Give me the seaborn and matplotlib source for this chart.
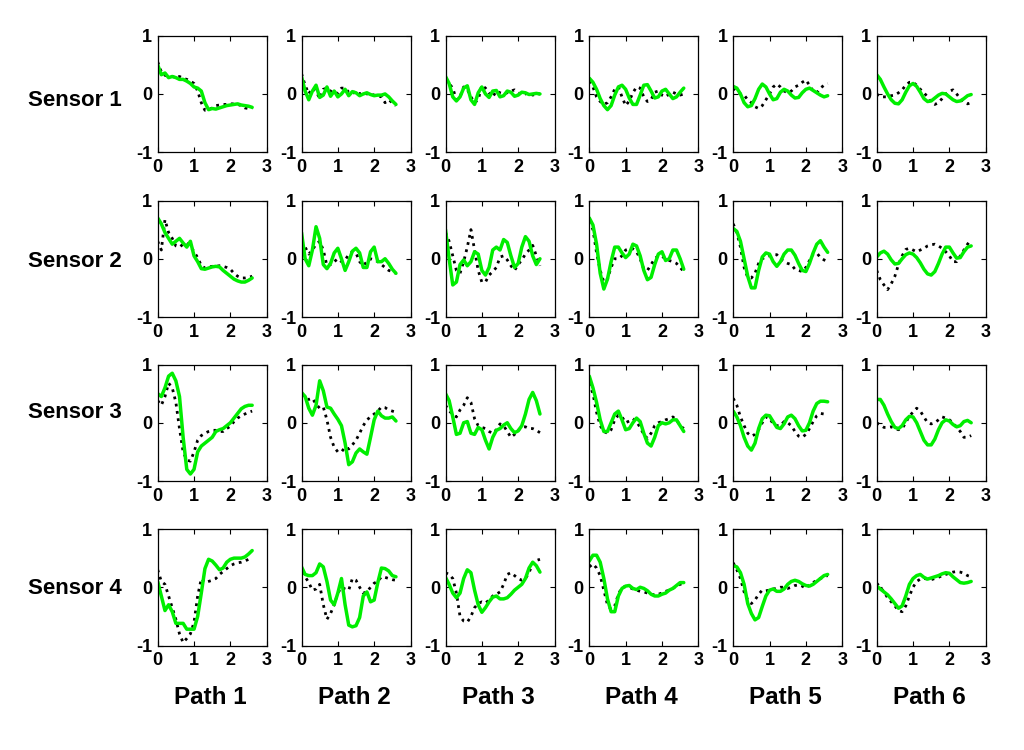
import matplotlib
matplotlib.use("Agg")
import matplotlib.pyplot as plt
import seaborn as sns

# time axis shared by every panel (s)
t = [0.0, 0.1, 0.2, 0.3, 0.4, 0.5, 0.6, 0.7, 0.8, 0.9, 1.0, 1.1, 1.2, 1.3,
     1.4, 1.5, 1.6, 1.7, 1.8, 1.9, 2.0, 2.1, 2.2, 2.3, 2.4, 2.5, 2.6]

sensors = ["Sensor 1", "Sensor 2", "Sensor 3", "Sensor 4"]
paths = ["Path 1", "Path 2", "Path 3", "Path 4", "Path 5", "Path 6"]

# green solid curves, one list per path
sensor1_green = [
    [0.5, 0.33, 0.36, 0.28, 0.3, 0.28, 0.25, 0.25, 0.22, 0.18, 0.12, 0.1, 0.05, -0.15, -0.27, -0.25, -0.26, -0.24, -0.22, -0.2, -0.19, -0.18, -0.17, -0.19, -0.2, -0.21, -0.23],
    [0.3, 0.05, -0.1, 0.05, 0.15, -0.06, -0.02, 0.12, -0.04, 0.05, -0.05, 0.0, 0.08, -0.03, 0.04, 0.02, -0.03, 0.0, 0.02, -0.01, -0.03, -0.02, -0.02, 0.0, -0.05, -0.12, -0.18],
    [0.3, 0.18, -0.05, -0.12, -0.05, 0.1, 0.14, -0.1, -0.18, 0.02, 0.12, 0.0, -0.06, 0.05, 0.06, -0.05, -0.03, 0.05, 0.03, -0.04, -0.02, 0.03, 0.02, -0.01, 0.0, 0.01, 0.0],
    [0.27, 0.2, 0.08, -0.08, -0.2, -0.27, -0.2, -0.02, 0.12, 0.15, 0.08, -0.07, -0.18, -0.18, -0.02, 0.15, 0.16, 0.05, -0.07, -0.05, 0.05, 0.08, 0.0, -0.08, -0.05, 0.03, 0.1],
    [0.13, 0.1, 0.0, -0.15, -0.22, -0.2, -0.08, 0.08, 0.17, 0.12, 0.0, -0.1, -0.08, 0.03, 0.08, 0.05, -0.02, -0.07, -0.06, 0.02, 0.08, 0.1, 0.06, 0.02, -0.02, -0.05, -0.03],
    [0.33, 0.25, 0.12, 0.0, -0.1, -0.16, -0.17, -0.1, 0.03, 0.14, 0.18, 0.13, 0.03, -0.08, -0.13, -0.12, -0.07, -0.02, 0.01, 0.0, -0.05, -0.1, -0.13, -0.12, -0.08, -0.03, -0.01],
]
sensor2_green = [
    [0.7, 0.6, 0.45, 0.35, 0.25, 0.3, 0.35, 0.27, 0.2, 0.3, 0.05, -0.05, -0.17, -0.18, -0.16, -0.14, -0.13, -0.14, -0.2, -0.25, -0.3, -0.35, -0.38, -0.4, -0.4, -0.37, -0.33],
    [0.45, 0.0, -0.12, 0.15, 0.55, 0.35, -0.1, -0.17, -0.08, 0.1, 0.18, 0.0, -0.2, -0.05, 0.13, 0.18, 0.1, -0.15, -0.15, 0.12, 0.2, -0.05, -0.05, 0.0, -0.08, -0.18, -0.25],
    [0.5, 0.0, -0.45, -0.4, -0.1, -0.02, -0.12, -0.05, 0.12, 0.08, -0.2, -0.28, -0.15, 0.15, 0.2, 0.15, 0.33, 0.28, 0.05, -0.15, -0.08, 0.2, 0.38, 0.3, 0.05, -0.1, 0.0],
    [0.7, 0.58, 0.25, -0.25, -0.52, -0.35, -0.05, 0.2, 0.2, 0.1, 0.02, 0.08, 0.25, 0.22, 0.05, -0.2, -0.36, -0.32, -0.1, 0.08, 0.12, -0.03, 0.0, 0.15, 0.15, 0.0, -0.18],
    [0.52, 0.47, 0.3, 0.0, -0.3, -0.5, -0.5, -0.2, 0.03, 0.1, 0.08, -0.05, -0.13, -0.05, 0.08, 0.15, 0.15, 0.06, -0.08, -0.2, -0.22, -0.08, 0.1, 0.25, 0.31, 0.2, 0.11],
    [0.03, 0.1, 0.13, 0.08, -0.02, -0.09, -0.08, 0.0, 0.07, 0.1, 0.08, 0.02, -0.07, -0.18, -0.26, -0.28, -0.22, -0.08, 0.08, 0.2, 0.2, 0.1, 0.01, 0.02, 0.12, 0.2, 0.22],
]
sensor3_green = [
    [0.5, 0.45, 0.6, 0.8, 0.85, 0.72, 0.45, -0.25, -0.8, -0.88, -0.8, -0.5, -0.4, -0.35, -0.3, -0.25, -0.15, -0.12, -0.1, -0.05, 0.0, 0.08, 0.16, 0.24, 0.28, 0.3, 0.3],
    [0.52, 0.45, 0.25, 0.13, 0.3, 0.72, 0.55, 0.27, 0.25, 0.15, 0.06, -0.05, -0.35, -0.72, -0.67, -0.52, -0.45, -0.5, -0.54, -0.25, 0.05, 0.2, 0.12, 0.08, 0.08, 0.1, 0.03],
    [0.5, 0.38, 0.1, -0.2, -0.18, 0.0, 0.02, -0.18, -0.2, -0.08, -0.12, -0.3, -0.45, -0.25, -0.13, -0.1, -0.04, 0.0, -0.1, -0.17, -0.14, -0.05, 0.15, 0.4, 0.52, 0.38, 0.15],
    [0.8, 0.6, 0.35, 0.05, -0.15, -0.15, 0.0, 0.15, 0.2, 0.05, -0.12, -0.1, 0.0, 0.08, 0.02, -0.18, -0.35, -0.4, -0.25, -0.05, 0.0, -0.02, 0.0, 0.05, 0.05, -0.05, -0.15],
    [0.2, 0.1, -0.05, -0.25, -0.4, -0.47, -0.35, -0.1, 0.07, 0.13, 0.12, 0.02, -0.08, -0.1, -0.02, 0.1, 0.13, 0.07, -0.05, -0.14, -0.13, 0.0, 0.2, 0.33, 0.37, 0.37, 0.36],
    [0.4, 0.4, 0.3, 0.15, 0.02, -0.08, -0.1, -0.05, 0.05, 0.11, 0.1, 0.0, -0.15, -0.3, -0.38, -0.38, -0.28, -0.12, 0.0, 0.05, 0.03, -0.03, -0.07, -0.05, 0.02, 0.04, 0.0],
]
sensor4_green = [
    [0.1, -0.15, -0.4, -0.3, -0.42, -0.62, -0.62, -0.62, -0.72, -0.72, -0.72, -0.5, -0.1, 0.32, 0.48, 0.45, 0.38, 0.3, 0.33, 0.43, 0.48, 0.5, 0.5, 0.5, 0.52, 0.57, 0.63],
    [0.35, 0.22, 0.2, 0.2, 0.25, 0.4, 0.35, 0.1, -0.22, -0.3, -0.1, 0.15, -0.3, -0.65, -0.68, -0.66, -0.52, -0.15, -0.08, -0.25, -0.22, 0.08, 0.33, 0.32, 0.28, 0.2, 0.18],
    [0.17, 0.05, -0.1, -0.18, -0.1, 0.15, 0.3, 0.25, -0.05, -0.3, -0.43, -0.35, -0.25, -0.17, -0.15, -0.2, -0.2, -0.18, -0.12, -0.05, 0.0, 0.05, 0.15, 0.33, 0.43, 0.37, 0.26],
    [0.45, 0.55, 0.55, 0.43, 0.15, -0.2, -0.42, -0.42, -0.15, -0.02, 0.02, 0.03, -0.02, -0.04, 0.0, -0.02, -0.06, -0.12, -0.15, -0.15, -0.12, -0.1, -0.05, -0.02, 0.03, 0.08, 0.08],
    [0.37, 0.35, 0.25, 0.05, -0.28, -0.45, -0.56, -0.52, -0.33, -0.15, -0.05, -0.03, -0.07, -0.07, -0.03, 0.05, 0.1, 0.12, 0.1, 0.06, 0.03, 0.02, 0.05, 0.1, 0.15, 0.2, 0.22],
    [0.02, -0.03, -0.08, -0.13, -0.2, -0.28, -0.36, -0.32, -0.15, 0.05, 0.15, 0.2, 0.22, 0.17, 0.14, 0.16, 0.18, 0.2, 0.23, 0.25, 0.24, 0.18, 0.13, 0.08, 0.07, 0.08, 0.1],
]

# black dotted curves, one list per path
sensor1_black = [
    [0.55, 0.38, 0.32, 0.3, 0.3, 0.28, 0.3, 0.27, 0.25, 0.22, 0.18, 0.05, -0.15, -0.28, -0.27, -0.24, -0.2, -0.19, -0.18, -0.18, -0.17, -0.17, -0.18, -0.2, -0.24, -0.25, -0.25],
    [0.35, 0.15, 0.0, 0.1, 0.05, -0.08, 0.08, 0.1, 0.05, 0.0, 0.02, 0.1, 0.1, 0.03, 0.0, 0.05, 0.0, 0.03, 0.0, 0.0, -0.02, -0.03, -0.05, -0.15, -0.1, -0.15, -0.2],
    [0.25, 0.18, 0.1, -0.1, -0.05, 0.12, 0.08, -0.05, -0.15, -0.1, 0.15, 0.1, 0.02, -0.05, 0.05, 0.02, 0.0, 0.02, 0.05, 0.07, 0.02, -0.02, 0.0, 0.02, -0.02, 0.0, 0.0],
    [0.22, 0.12, -0.05, -0.13, -0.18, -0.15, -0.05, 0.08, 0.12, -0.05, -0.2, -0.12, 0.02, 0.12, 0.1, -0.05, -0.13, -0.1, 0.03, 0.05, -0.02, -0.05, 0.0, 0.03, 0.0, -0.02, 0.0],
    [0.1, 0.05, 0.0, -0.02, -0.1, -0.15, -0.22, -0.25, -0.2, -0.1, 0.0, 0.12, 0.17, 0.12, 0.05, 0.02, 0.05, 0.12, 0.15, 0.2, 0.24, 0.15, 0.05, 0.02, 0.1, 0.15, 0.18],
    [0.0, -0.05, -0.05, -0.05, -0.03, -0.02, 0.02, 0.07, 0.15, 0.2, 0.2, 0.15, 0.08, 0.02, -0.05, -0.15, -0.18, -0.15, -0.08, 0.0, 0.05, 0.07, 0.0, -0.08, -0.15, -0.17, -0.15],
]
sensor2_black = [
    [0.3, 0.15, 0.67, 0.45, 0.35, 0.22, 0.2, 0.25, 0.27, 0.22, 0.12, 0.02, -0.12, -0.16, -0.14, -0.13, -0.13, -0.12, -0.13, -0.15, -0.18, -0.25, -0.3, -0.33, -0.33, -0.32, -0.3],
    [0.3, 0.2, 0.08, 0.15, 0.25, 0.3, 0.15, -0.12, -0.1, -0.05, 0.0, -0.05, -0.02, 0.07, 0.12, 0.1, -0.05, -0.12, -0.05, 0.0, -0.02, -0.05, -0.1, -0.15, -0.2, -0.22, -0.25],
    [0.45, 0.3, 0.05, -0.2, -0.25, -0.05, 0.2, 0.5, 0.15, -0.2, -0.4, -0.4, -0.28, -0.22, -0.15, 0.03, 0.05, -0.02, -0.12, -0.2, -0.1, -0.02, 0.08, 0.15, 0.23, 0.05, -0.12],
    [0.65, 0.5, 0.1, -0.2, -0.4, -0.35, -0.15, 0.0, 0.0, 0.05, 0.15, 0.17, 0.17, 0.12, 0.0, -0.18, -0.2, -0.1, 0.0, 0.05, 0.04, 0.0, -0.03, -0.05, -0.08, -0.15, -0.22],
    [0.6, 0.45, 0.2, -0.15, -0.32, -0.33, -0.25, -0.08, 0.0, 0.03, 0.05, 0.07, 0.07, 0.0, -0.05, -0.08, -0.1, -0.18, -0.2, -0.22, -0.15, -0.03, 0.08, 0.1, 0.02, -0.02, -0.05],
    [-0.2, -0.36, -0.45, -0.53, -0.43, -0.3, -0.1, 0.05, 0.16, 0.18, 0.15, 0.12, 0.15, 0.18, 0.22, 0.24, 0.25, 0.22, 0.18, 0.12, 0.05, -0.05, -0.05, 0.05, 0.15, 0.25, 0.33],
]
sensor3_black = [
    [0.38, 0.3, 0.45, 0.68, 0.6, 0.35, -0.1, -0.5, -0.64, -0.66, -0.5, -0.3, -0.22, -0.18, -0.15, -0.13, -0.13, -0.15, -0.15, -0.1, -0.06, 0.02, 0.08, 0.12, 0.15, 0.18, 0.2],
    [0.48, 0.42, 0.4, 0.42, 0.32, 0.25, 0.27, 0.05, -0.25, -0.42, -0.5, -0.5, -0.42, -0.45, -0.38, -0.3, -0.18, -0.05, 0.05, 0.1, 0.15, 0.2, 0.27, 0.26, 0.22, 0.2, 0.18],
    [0.3, 0.2, 0.15, 0.1, 0.22, 0.3, 0.43, 0.35, 0.07, -0.05, -0.08, -0.1, -0.15, -0.18, -0.12, -0.02, -0.05, -0.15, -0.25, -0.2, -0.13, -0.07, -0.07, -0.1, -0.1, -0.13, -0.17],
    [0.68, 0.5, 0.18, -0.05, -0.15, -0.18, -0.12, 0.05, 0.13, 0.1, 0.0, 0.03, 0.07, 0.02, -0.08, -0.2, -0.27, -0.18, -0.05, 0.0, 0.02, 0.05, 0.07, 0.1, 0.05, -0.05, -0.1],
    [0.42, 0.3, 0.1, -0.05, -0.18, -0.23, -0.2, -0.12, 0.0, 0.1, 0.08, -0.02, -0.05, -0.05, 0.02, 0.0, -0.05, -0.15, -0.23, -0.25, -0.2, -0.1, 0.02, 0.12, 0.16, 0.15, 0.13],
    [0.0, -0.04, -0.08, -0.08, -0.07, -0.1, -0.12, -0.1, 0.0, 0.12, 0.18, 0.25, 0.2, 0.1, 0.0, -0.02, 0.0, 0.05, 0.1, 0.08, 0.05, 0.0, -0.08, -0.15, -0.25, -0.25, -0.22],
]
sensor4_black = [
    [0.3, 0.1, 0.05, -0.15, -0.35, -0.55, -0.8, -0.95, -0.88, -0.8, -0.6, -0.15, 0.15, 0.08, 0.1, 0.12, 0.15, 0.22, 0.27, 0.32, 0.37, 0.4, 0.42, 0.43, 0.45, 0.48, 0.52],
    [0.25, 0.18, 0.08, -0.05, -0.03, 0.05, -0.3, -0.55, -0.45, -0.3, -0.1, 0.0, -0.03, -0.05, 0.15, 0.12, 0.0, -0.1, -0.08, 0.0, 0.07, 0.1, 0.18, 0.17, 0.15, 0.13, 0.12],
    [0.25, 0.22, 0.15, -0.1, -0.5, -0.58, -0.6, -0.5, -0.35, -0.28, -0.25, -0.27, -0.22, -0.15, -0.12, -0.08, 0.05, 0.22, 0.25, 0.2, 0.15, 0.12, 0.15, 0.25, 0.42, 0.46, 0.48],
    [0.35, 0.4, 0.33, 0.2, -0.05, -0.3, -0.38, -0.32, -0.12, 0.0, 0.01, 0.0, -0.03, -0.05, -0.07, -0.08, -0.1, -0.12, -0.13, -0.12, -0.1, -0.07, -0.05, -0.02, 0.02, 0.05, 0.07],
    [0.42, 0.3, 0.15, -0.08, -0.22, -0.28, -0.22, -0.12, -0.05, -0.06, -0.05, -0.03, -0.02, 0.0, 0.0, -0.02, 0.0, 0.03, 0.04, 0.02, -0.02, 0.05, 0.08, 0.12, 0.15, 0.18, 0.2],
    [0.07, 0.0, -0.08, -0.18, -0.25, -0.32, -0.4, -0.42, -0.32, -0.15, 0.0, 0.1, 0.14, 0.15, 0.14, 0.13, 0.15, 0.17, 0.2, 0.22, 0.24, 0.26, 0.27, 0.26, 0.24, 0.2, 0.18],
]

green_rows = [sensor1_green, sensor2_green, sensor3_green, sensor4_green]
black_rows = [sensor1_black, sensor2_black, sensor3_black, sensor4_black]

sns.set_style("ticks")
plt.rcParams['font.family'] = ['Liberation Sans', 'DejaVu Sans']
plt.rcParams['font.weight'] = 'bold'
plt.rcParams['axes.unicode_minus'] = False  # plain hyphen like the original
for key in ['text.color', 'xtick.color', 'ytick.color', 'axes.labelcolor', 'axes.edgecolor']:
    plt.rcParams[key] = 'black'

W, H = 1024, 750
fig = plt.figure(figsize=(W / 100, H / 100), dpi=100)
fig.patch.set_facecolor('white')

# panel geometry in pixels
col_left = [157.7, 301.5, 445.5, 589.3, 733.2, 876.7]
row_top = [35.7, 200.5, 364.5, 529.0]
ax_w, ax_h = 109, 116.5

for r in range(4):
    for c in range(6):
        ax = fig.add_axes([col_left[c] / W, 1 - (row_top[r] + ax_h) / H, ax_w / W, ax_h / H])
        sns.lineplot(x=t, y=black_rows[r][c], ax=ax, color='black', linewidth=2.0,
                     linestyle=':', estimator=None)
        sns.lineplot(x=t, y=green_rows[r][c], ax=ax, color='#00ee00', linewidth=2.5,
                     estimator=None)
        ax.set_xlim(0, 3)
        ax.set_ylim(-1, 1)
        ax.set_xticks([0, 1, 2, 3])
        ax.set_yticks([-1, 0, 1])
        ax.set(xlabel='', ylabel='')
        ax.tick_params(direction='in', top=True, right=True, length=3.5, width=0.8,
                       labelsize=13, pad=5)
        ax.tick_params(axis='y', pad=4)
        for side in ax.spines.values():
            side.set_visible(True)
            side.set_linewidth(0.9)
            side.set_color('black')

# row labels
sensor_y = [100, 262, 412, 588]
for name, y in zip(sensors, sensor_y):
    fig.text(75 / W, 1 - y / H, name, ha='center', va='center', fontsize=16, fontweight='bold')

# column labels
for c, name in enumerate(paths):
    fig.text((col_left[c] + ax_w / 2 - 2) / W, 1 - 698 / H, name, ha='center', va='center',
             fontsize=17.5, fontweight='bold')

fig.savefig('out.png', dpi=100)
